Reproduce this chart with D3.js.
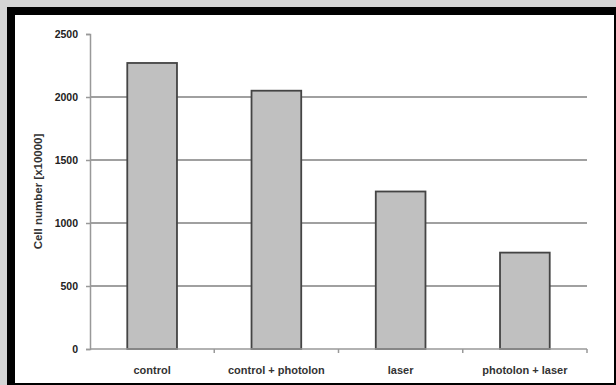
<!DOCTYPE html>
<html>
<head>
<meta charset="utf-8">
<script src="https://cdn.jsdelivr.net/npm/d3@7"></script>
<style>
  body { margin: 0; background: #d4d4d4; }
  svg { display: block; }
  text { font-family: "Liberation Sans", Arial, sans-serif; fill: #222; }
</style>
</head>
<body>
<div id="chart"></div>
<script>
// data
const categories = ["control", "control + photolon", "laser", "photolon + laser"];
const cellNumbers = [2270, 2050, 1250, 765];
const yTicks = [0, 500, 1000, 1500, 2000, 2500];

const W = 616, H = 385;
const margin = { top: 34, right: 29, bottom: 36, left: 90 };

const svg = d3.select("#chart").append("svg")
    .attr("width", W)
    .attr("height", H);

// background + frame
svg.append("rect").attr("width", W).attr("height", H).attr("fill", "#d4d4d4");
svg.append("rect")
    .attr("x", 7).attr("y", 7)
    .attr("width", W - 7).attr("height", H - 7)
    .attr("fill", "#000");
svg.append("rect")
    .attr("x", 15).attr("y", 15)
    .attr("width", W - 15 - 2).attr("height", H - 15 - 2)
    .attr("fill", "#fff");

const x = d3.scaleBand()
    .domain(categories)
    .range([margin.left, W - margin.right])
    .padding(0);

const y = d3.scaleLinear()
    .domain([0, 2500])
    .range([H - margin.bottom, margin.top]);

// gridlines (no line at the top value)
svg.selectAll(".grid")
    .data(yTicks.filter(d => d > 0 && d < 2500))
    .enter().append("line")
    .attr("class", "grid")
    .attr("x1", margin.left)
    .attr("x2", W - margin.right)
    .attr("y1", d => y(d))
    .attr("y2", d => y(d))
    .attr("stroke", "#808080")
    .attr("stroke-width", 1.6);

// bars
const bw = x.bandwidth() * 0.4;
svg.selectAll(".bar")
    .data(cellNumbers)
    .enter().append("rect")
    .attr("class", "bar")
    .attr("x", (d, i) => x(categories[i]) + (x.bandwidth() - bw) / 2)
    .attr("y", d => y(d))
    .attr("width", bw)
    .attr("height", d => y(0) - y(d))
    .attr("fill", "#c0c0c0")
    .attr("stroke", "#444")
    .attr("stroke-width", 1.8);

// y axis
const yAxis = svg.append("g")
    .attr("transform", `translate(${margin.left},0)`)
    .call(d3.axisLeft(y).tickValues(yTicks).tickFormat(d3.format("d")).tickSize(4).tickPadding(8));
yAxis.select(".domain").attr("stroke", "#999").attr("stroke-width", 1.5);
yAxis.selectAll(".tick line").attr("stroke", "#999").attr("stroke-width", 1.5);
yAxis.selectAll(".tick text")
    .style("font-size", "10.5px")
    .style("font-weight", "bold")
    .style("font-family", "Liberation Sans, Arial, sans-serif")
    .attr("fill", "#333");

// x axis with ticks at band boundaries
svg.append("line")
    .attr("x1", margin.left).attr("x2", W - margin.right)
    .attr("y1", y(0)).attr("y2", y(0))
    .attr("stroke", "#999").attr("stroke-width", 1.5);
svg.selectAll(".xtick")
    .data(categories)
    .enter().append("line")
    .attr("class", "xtick")
    .attr("x1", d => x(d) + x.bandwidth())
    .attr("x2", d => x(d) + x.bandwidth())
    .attr("y1", y(0))
    .attr("y2", y(0) + 4)
    .attr("stroke", "#999").attr("stroke-width", 1.5);

svg.selectAll(".xlabel")
    .data(categories)
    .enter().append("text")
    .attr("class", "xlabel")
    .attr("x", d => x(d) + x.bandwidth() / 2)
    .attr("y", y(0) + 25)
    .attr("text-anchor", "middle")
    .style("font-size", "11px")
    .style("font-weight", "bold")
    .style("fill", "#333")
    .text(d => d);

// y title
svg.append("text")
    .attr("transform", `translate(42,${(y(0) + y(2500)) / 2}) rotate(-90)`)
    .attr("text-anchor", "middle")
    .style("font-size", "11.5px")
    .style("font-weight", "bold")
    .style("fill", "#333")
    .text("Cell number [x10000]");
</script>
</body>
</html>
